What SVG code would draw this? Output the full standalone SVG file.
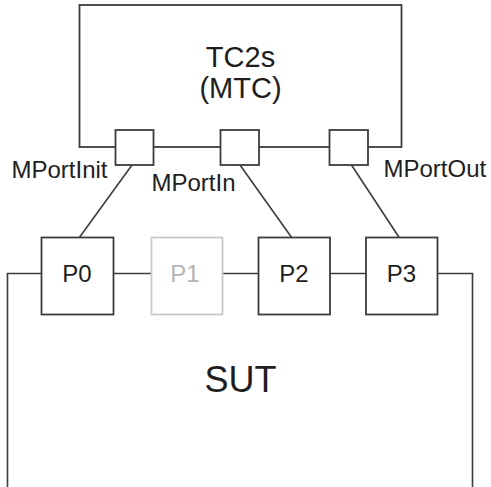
<svg xmlns="http://www.w3.org/2000/svg" width="491" height="487" viewBox="0 0 491 487">
<style>
.box{fill:#fff;stroke:#3c3c3c;stroke-width:1.8}
.gbox{fill:#fff;stroke:#c8c8c8;stroke-width:1.8}
.ln{fill:none;stroke:#3c3c3c;stroke-width:1.6}
text{font-family:"Liberation Sans",Arial,sans-serif;fill:#1e1e1e}
.lbl{font-size:24px}
.ctr{text-anchor:middle}
</style>
<rect width="491" height="487" fill="#fff"/>
<g id="SUT">
<path class="ln" d="M7.5,487 V273.5 H472.5 V487"/>
<text class="ctr" x="240.5" y="391.5" font-size="36">SUT</text>
</g>
<g id="TC2s">
<rect class="box" x="79.5" y="5" width="322" height="142"/>
<text class="ctr" x="240.5" y="66.5" font-size="29">TC2s</text>
<text class="ctr" x="240.5" y="98" font-size="29">(MTC)</text>
</g>
<g id="connectors">
<line class="ln" x1="132" y1="165" x2="79" y2="238"/>
<line class="ln" x1="240" y1="165" x2="292" y2="238"/>
<line class="ln" x1="351.5" y1="165" x2="399.5" y2="238"/>
</g>
<g id="MPortInit">
<rect class="box" x="115.5" y="130" width="38" height="35"/>
<text class="lbl" x="11.5" y="177.5">MPortInit</text>
</g>
<g id="MPortIn">
<rect class="box" x="220.5" y="130" width="38.5" height="35"/>
<text class="lbl" x="151.5" y="190.5">MPortIn</text>
</g>
<g id="MPortOut">
<rect class="box" x="329.5" y="130" width="38.5" height="35"/>
<text class="lbl" x="383.5" y="177">MPortOut</text>
</g>
<g id="P0">
<rect class="box" x="41.5" y="237.5" width="72" height="77"/>
<text class="ctr" x="77" y="282" font-size="24">P0</text>
</g>
<g id="P1">
<rect class="gbox" x="151.5" y="237.5" width="71" height="77"/>
<text class="ctr" x="185" y="282" font-size="24" style="fill:#b4b4b4">P1</text>
</g>
<g id="P2">
<rect class="box" x="258.5" y="237.5" width="71.5" height="77"/>
<text class="ctr" x="294" y="282" font-size="24">P2</text>
</g>
<g id="P3">
<rect class="box" x="366" y="237.5" width="71.5" height="77"/>
<text class="ctr" x="401.5" y="282" font-size="24">P3</text>
</g>
</svg>
